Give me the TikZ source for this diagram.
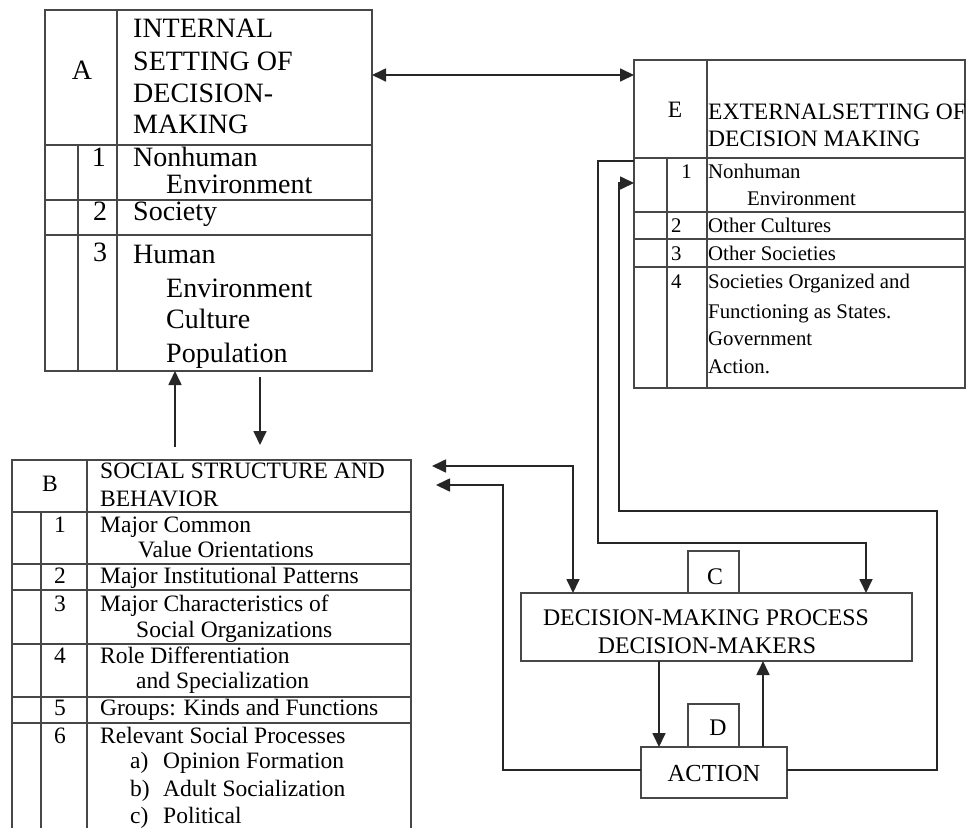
\documentclass[tikz,border=0pt]{standalone}
\usepackage{fontspec}
\setmainfont{Liberation Serif}
\usetikzlibrary{arrows.meta}
\begin{document}
\begin{tikzpicture}[x=1pt,y=-1pt,
  frame/.style={draw=black!72, line width=1.3pt},
  box/.style={frame, inner sep=0pt, outer sep=0pt},
  con/.style={draw=black!85, line width=1.7pt},
  tip/.tip={Triangle[length=14pt,width=13pt]},
  arr/.style={con, -tip},
  arrs/.style={con, tip-tip},
  tA/.style={font=\fontsize{28}{32}\selectfont, inner sep=0pt, anchor=base west},
  nA/.style={font=\fontsize{28}{32}\selectfont, inner sep=0pt, anchor=base},
  tB/.style={font=\fontsize{23.5}{28}\selectfont, inner sep=0pt, anchor=base west},
  nB/.style={font=\fontsize{23.5}{28}\selectfont, inner sep=0pt, anchor=base},
  tE/.style={font=\fontsize{20.8}{24}\selectfont, inner sep=0pt, anchor=base west},
  tEh/.style={font=\fontsize{23.5}{28}\selectfont, inner sep=0pt, anchor=base west},
  tC/.style={font=\fontsize{23.8}{28}\selectfont, inner sep=0pt},
]
\useasboundingbox (0,0) rectangle (972,828);

% ---------- Box A ----------
\node[box, minimum width=327pt, minimum height=361pt] (Abox) at (208.5,190.5) {};
\draw[frame] (117,10) -- (117,371);
\draw[frame] (45,145) -- (372,145);
\draw[frame] (78,145) -- (78,371);
\draw[frame] (45,200) -- (372,200);
\draw[frame] (45,235) -- (372,235);
\node[font=\fontsize{28}{32}\selectfont, inner sep=0pt] (Alab) at (82,70) {A};
\node[tA] (Ah1) at (133,37) {INTERNAL};
\node[tA] (Ah2) at (133,70) {SETTING OF};
\node[tA] (Ah3) at (133,102) {DECISION-};
\node[tA] (Ah4) at (133,133) {MAKING};
\node[tA, anchor=base east] (A1n) at (106,166) {1};
\node[tA] (A1a) at (133,166) {Nonhuman};
\node[tA] (A1b) at (166,193) {Environment};
\node[nA] (A2n) at (100,220) {2};
\node[tA] (A2a) at (133,220) {Society};
\node[nA] (A3n) at (100,261) {3};
\node[tA] (A3a) at (133,263) {Human};
\node[tA] (A3b) at (166,297) {Environment};
\node[tA] (A3c) at (166,328) {Culture};
\node[tA] (A3d) at (166,362) {Population};

% ---------- Box E ----------
\node[box, minimum width=331pt, minimum height=328pt] (Ebox) at (799.5,224) {};
\draw[frame] (707,60) -- (707,388);
\draw[frame] (634,158) -- (965,158);
\draw[frame] (667,158) -- (667,388);
\draw[frame] (634,212) -- (965,212);
\draw[frame] (634,239) -- (965,239);
\draw[frame] (634,267) -- (965,267);
\node[font=\fontsize{23.5}{28}\selectfont, inner sep=0pt] (Elab) at (675,110) {E};
\node[tEh] (Eh1) at (708,119) {EXTERNALSETTING OF};
\node[tEh] (Eh2) at (708,146) {DECISION MAKING};
\node[tE, anchor=base east] (E1n) at (692,178) {1};
\node[tE] (E1a) at (708,178) {Nonhuman};
\node[tE] (E1b) at (747,205) {Environment};
\node[tE] (E2n) at (671,232) {2};
\node[tE] (E2a) at (708,232) {Other Cultures};
\node[tE] (E3n) at (671,260) {3};
\node[tE] (E3a) at (708,260) {Other Societies};
\node[tE] (E4n) at (671,288) {4};
\node[tE] (E4a) at (708,288) {Societies Organized and};
\node[tE] (E4b) at (708,318) {Functioning as States.};
\node[tE] (E4c) at (708,345) {Government};
\node[tE] (E4d) at (708,373) {Action.};

% ---------- Box B ----------
\draw[frame] (12,828) -- (12,460) -- (411,460) -- (411,828);
\draw[frame] (87,460) -- (87,828);
\draw[frame] (12,512) -- (411,512);
\draw[frame] (41,512) -- (41,828);
\foreach \yy in {564,590,644,697,723} \draw[frame] (12,\yy) -- (411,\yy);
\node[font=\fontsize{23.5}{28}\selectfont, inner sep=0pt] (Blab) at (50,484) {B};
\node[tB] (Bh1) at (100,478) {SOCIAL STRUCTURE AND};
\node[tB] (Bh2) at (100,506) {BEHAVIOR};
\node[nB] (B1n) at (60,532) {1};
\node[tB] (B1a) at (100,532) {Major Common};
\node[tB] (B1b) at (138,557) {Value Orientations};
\node[nB] (B2n) at (60,583) {2};
\node[tB] (B2a) at (100,583) {Major Institutional Patterns};
\node[nB] (B3n) at (60,611) {3};
\node[tB] (B3a) at (100,611) {Major Characteristics of};
\node[tB] (B3b) at (136,637) {Social Organizations};
\node[nB] (B4n) at (60,663) {4};
\node[tB] (B4a) at (100,663) {Role Differentiation};
\node[tB] (B4b) at (136,688) {and Specialization};
\node[nB] (B5n) at (60,715) {5};
\node[tB] (B5a) at (100,715) {Groups: Kinds and Functions};
\node[nB] (B6n) at (60,743) {6};
\node[tB] (B6a) at (100,743) {Relevant Social Processes};
\node[tB] (B6b1) at (130,768) {a)};
\node[tB] (B6b2) at (163,768) {Opinion Formation};
\node[tB] (B6c1) at (130,796) {b)};
\node[tB] (B6c2) at (163,796) {Adult Socialization};
\node[tB] (B6d1) at (130,823) {c)};
\node[tB] (B6d2) at (163,823) {Political};

% ---------- C and D ----------
\node[box, minimum width=391pt, minimum height=68pt] (Cbox) at (716.5,627) {};
\node[box, minimum width=51pt, minimum height=42pt] (Clab) at (713.5,572) {};
\node[tC] (Ct) at (715,577) {C};
\node[tC, anchor=base] (C1) at (706,625) {DECISION-MAKING PROCESS};
\node[tC, anchor=base] (C2) at (707,653) {DECISION-MAKERS};
\node[box, minimum width=51pt, minimum height=43pt] (Dlab) at (713.5,725.5) {};
\node[tC] (Dt) at (718,728) {D};
\node[box, minimum width=146pt, minimum height=51pt] (Act) at (714,772.5) {};
\node[font=\fontsize{24.5}{28}\selectfont, inner sep=0pt] (Actt) at (714,773) {ACTION};

% ---------- connector coordinates ----------
\coordinate (yAE) at (0,75);
\coordinate (ba) at (175,447);
\coordinate (ab) at (260,445);
\coordinate (abs) at (260,377);
\coordinate (bc) at (432,466);
\coordinate (bcv) at (573,466);
\coordinate (ab2) at (436,485);
\coordinate (ab2v) at (503,485);
\coordinate (low) at (503,770);
\coordinate (rt) at (937,770);
\coordinate (rtop) at (937,511);
\coordinate (ein) at (619,511);
\coordinate (ein2) at (619,183);
\coordinate (eout) at (598,161);
\coordinate (eout2) at (598,543);
\coordinate (ec) at (866,543);
\coordinate (cd) at (659,0);
\coordinate (dc) at (763,0);

% ---------- connectors ----------
\draw[arrs] (Abox.east |- yAE) -- (Ebox.west |- yAE);
\draw[arr] (ba) -- (ba |- Abox.south);
\draw[arr] (abs) -- (ab);
\draw[arrs] (bc) -- (bcv) -- (bcv |- Cbox.north);
\draw[arr] (Act.west |- low) -- (low) -- (ab2v) -- (ab2);
\draw[arr] (Act.east |- rt) -- (rt) -- (rtop) -- (ein) -- (ein2) -- (Ebox.west |- ein2);
\draw[arr] (Ebox.west |- eout) -- (eout) -- (eout2) -- (ec) -- (ec |- Cbox.north);
\draw[arr] (cd |- Cbox.south) -- (cd |- Act.north);
\draw[arr] (dc |- Act.north) -- (dc |- Cbox.south);
\end{tikzpicture}
\end{document}
